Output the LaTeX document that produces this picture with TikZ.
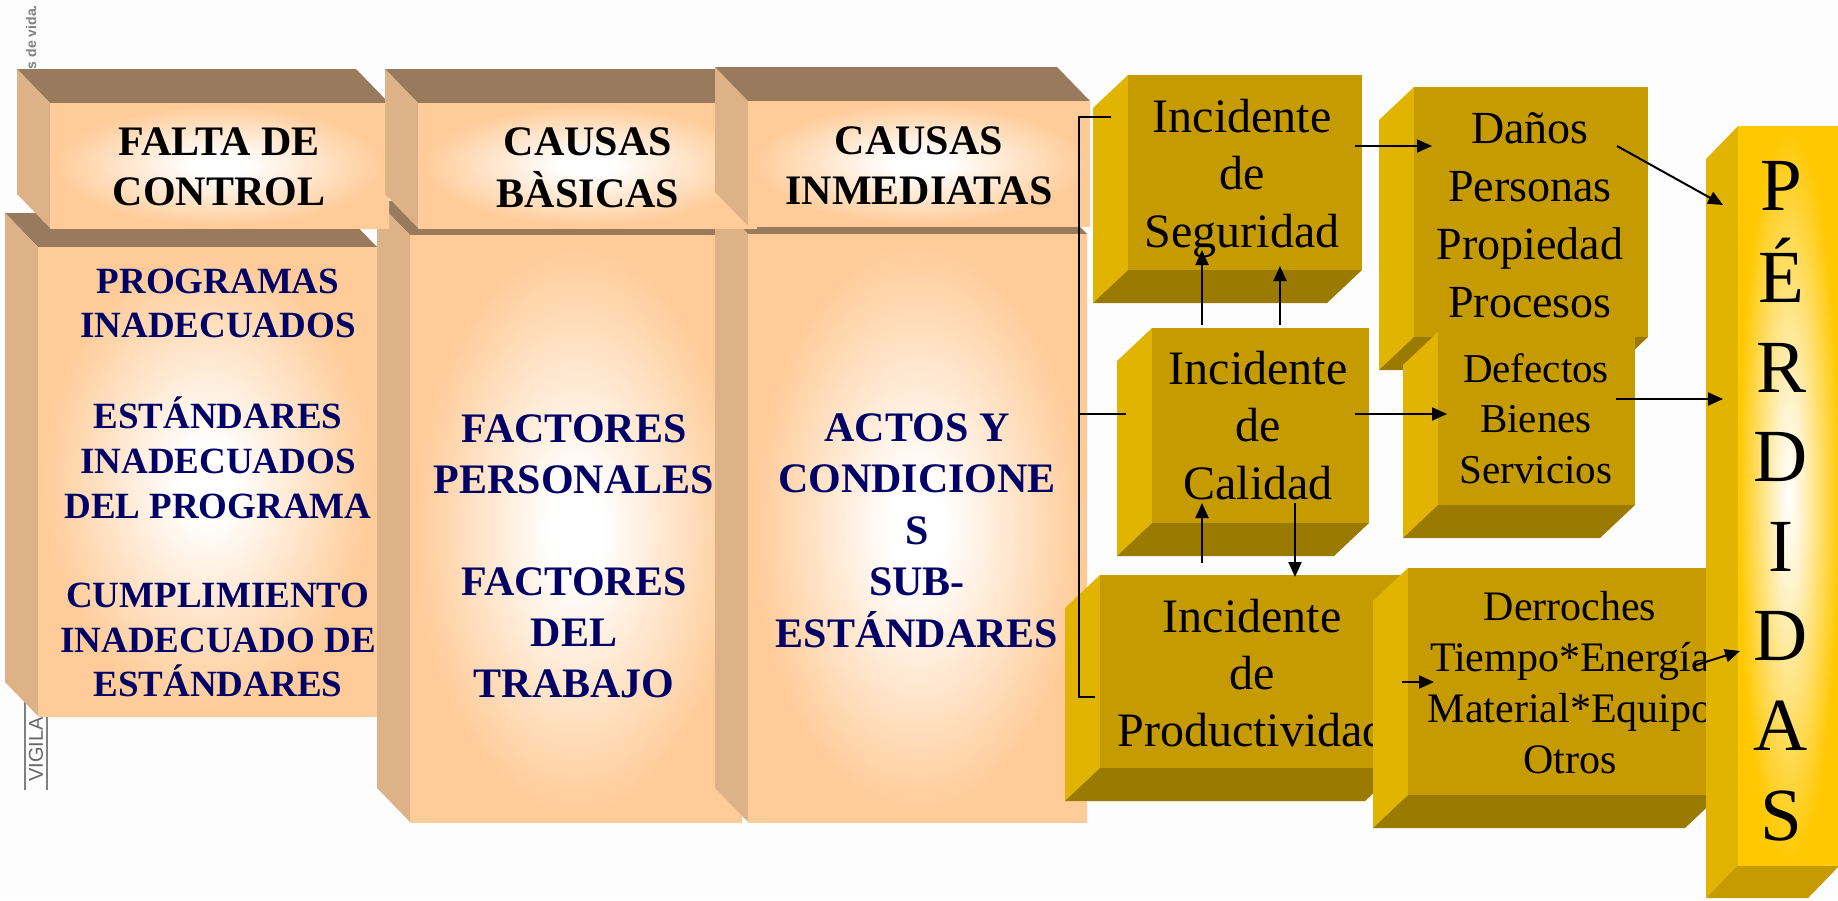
\documentclass[tikz,border=0pt]{standalone}
\usepackage{fontspec}
\setmainfont{Liberation Serif}
\newfontfamily\wmfont{Liberation Sans}
\usetikzlibrary{arrows.meta}
\definecolor{peach}{HTML}{FFCC99}
\definecolor{ptop}{HTML}{9A7A5C}
\definecolor{pside}{HTML}{DEB287}
\definecolor{navytx}{HTML}{000066}
\definecolor{gfront}{HTML}{C69B00}
\definecolor{gside}{HTML}{E0B400}
\definecolor{gbottom}{HTML}{9A7A00}
\definecolor{gyellow}{HTML}{FFC800}
\definecolor{gpale}{HTML}{FFF4D0}
\definecolor{bgc}{HTML}{FDFDFD}
\pgfdeclareradialshading{peachglow}{\pgfpoint{0bp}{0bp}}{color(0bp)=(white); color(4bp)=(white); color(24bp)=(peach); color(50bp)=(peach)}
\pgfdeclareradialshading{goldglow}{\pgfpoint{0bp}{0bp}}{color(0bp)=(white); color(6bp)=(gpale); color(25bp)=(gyellow); color(50bp)=(gyellow)}
\newcommand\peachcube[4]{%
  \fill[ptop] ({#1-33},{#2-34}) -- ({#3-33},{#2-34}) -- (#3,#2) -- (#1,#2) -- cycle;
  \fill[pside] ({#1-33},{#2-34}) -- (#1,#2) -- (#1,#4) -- ({#1-33},{#4-34}) -- cycle;
  \shade[shading=peachglow] (#1,#2) rectangle (#3,#4);}
\newcommand\goldcube[4]{%
  \fill[gside] ({#1-35},{#2+33}) -- (#1,#2) -- (#1,#4) -- ({#1-35},{#4+33}) -- cycle;
  \fill[gbottom] (#1,#4) -- (#3,#4) -- ({#3-35},{#4+33}) -- ({#1-35},{#4+33}) -- cycle;
  \fill[gfront] (#1,#2) rectangle (#3,#4);}
\begin{document}
\begin{tikzpicture}[x=1pt,y=-1pt,
  hdr/.style={font=\fontsize{42}{50}\selectfont\bfseries, text=black, align=center, anchor=north, inner sep=0pt},
  bodytx/.style 2 args={font=\fontsize{#1}{#2}\selectfont\bfseries, text=navytx, align=center, anchor=north, inner sep=0pt},
  gtx/.style 2 args={font=\fontsize{#1}{#2}\selectfont, text=black, align=center, anchor=north, inner sep=0pt},
  arr/.style={-{Triangle[length=15pt,width=13pt]}, line width=2pt, draw=black},
  brk/.style={line width=1.8pt, draw=black}]
\useasboundingbox (0,0) rectangle (1838,900);
\clip (0,0) rectangle (1838,900);
\fill[bgc] (0,0) rectangle (1838,900);

% background watermark fragments
\node[rotate=90, anchor=east, font=\wmfont\bfseries\fontsize{14}{16}\selectfont, text=gray, inner sep=0pt] (wma) at (31,5) {os de vida.};
\draw[gray, line width=1.5pt] (25,790) -- (25,697);
\draw[gray, line width=1.5pt] (47,790) -- (47,697);
\node[rotate=90, anchor=west, font=\wmfont\fontsize{20}{24}\selectfont, text=gray!80!black, inner sep=0pt] (wmb) at (36,782) {VIGILA};

% peach cubes
\peachcube{38}{247}{377}{716}
\peachcube{410}{235}{742}{822}
\peachcube{748}{234}{1087}{822}
\peachcube{50}{103}{389}{228}
\peachcube{418}{103}{757}{228}
\peachcube{748}{101}{1090}{226}

\node[hdr] (hfalta) at (219,120) {\strut FALTA DE\\CONTROL\strut};
\node[hdr] (hbasic) at (588,120) {\strut CAUSAS\\BÀSICAS\strut};
\node[hdr] (hinmed) at (919,119) {\strut CAUSAS\\INMEDIATAS\strut};

\node[bodytx={37}{44.7}] (bfalta) at (218,261.7) {\strut PROGRAMAS\\INADECUADOS\\\strut\\ESTÁNDARES\\INADECUADOS\\DEL PROGRAMA\\\strut\\CUMPLIMIENTO\\INADECUADO DE\\ESTÁNDARES\strut};
\node[bodytx={42}{51}] (bbasic) at (574,406.3) {\strut FACTORES\\PERSONALES\\\strut\\FACTORES\\DEL\\TRABAJO\strut};
\node[bodytx={42}{51.5}] (binmed) at (917,405) {\strut ACTOS Y\\CONDICIONE\\S\\SUB-\\ESTÁNDARES\strut};

% gold cubes
\goldcube{1128}{75}{1362}{270}
\node[gtx={48}{57.5}] (tseg) at (1242,91.75) {\strut Incidente\\de\\Seguridad\strut};
\goldcube{1414}{87}{1648}{337}
\node[gtx={46}{58}] (tdan) at (1530,102.4) {\strut Daños\\Personas\\Propiedad\\Procesos\strut};
\goldcube{1152}{328}{1369}{523}
\node[gtx={48}{57.5}] (tcal) at (1258,343.75) {\strut Incidente\\de\\Calidad\strut};
\goldcube{1438}{332}{1635}{505}
\node[gtx={41}{50.5}] (tdef) at (1536,346.65) {\strut Defectos\\Bienes\\Servicios\strut};
\goldcube{1100}{575}{1400}{768}
\node[gtx={48}{57}] (tprod) at (1252,592.1) {\strut Incidente\\de\\Productividad\strut};
\goldcube{1408}{568}{1720}{795}
\node[gtx={42}{51}] (tder) at (1570,584.3) {\strut Derroches\\Tiempo*Energía\\Material*Equipo\\Otros\strut};

% PERDIDAS bar
\fill[gside] (1706,159) -- (1738,126) -- (1738,865) -- (1706,898) -- cycle;
\fill[gfront] (1738,865) -- (1840,865) -- (1808,898) -- (1706,898) -- cycle;
\shade[shading=goldglow] (1738,126) rectangle (1840,865);
\node[gtx={75}{89.6}] (tper) at (1781,147.3) {\strut P\\É\\R\\D\\I\\D\\A\\S\strut};

% bracket
\coordinate (bTop) at (1079,117);
\coordinate (bTopE) at (1111,117);
\coordinate (bMid) at (1079,414);
\coordinate (bMidE) at (1126,414);
\coordinate (bBot) at (1079,697);
\coordinate (bBotE) at (1095,697);
\draw[brk] (bTopE) -- (bTop) -- (bBot) -- (bBotE);
\draw[brk] (bMid) -- (bMidE);

% arrows
\coordinate (segOut) at (1355,146);
\coordinate (danIn) at (1432,146);
\coordinate (danOut) at (1617,146);
\coordinate (perA) at (1723,205);
\coordinate (calOut) at (1355,414);
\coordinate (defIn) at (1447,414);
\coordinate (defOut) at (1616,399);
\coordinate (perB) at (1723,399);
\coordinate (calUpA) at (1202,325);
\coordinate (segInA) at (1202,250);
\coordinate (calUpB) at (1280,325);
\coordinate (segInB) at (1280,266);
\coordinate (prodUp) at (1202,563);
\coordinate (calIn) at (1202,503);
\coordinate (calDown) at (1295,503);
\coordinate (prodIn) at (1295,577);
\coordinate (prodOut) at (1402,682);
\coordinate (derIn) at (1434,682);
\coordinate (derOut) at (1693,666);
\coordinate (perC) at (1740,651);
\draw[arr] (segOut) -- (danIn);
\draw[arr] (danOut) -- (perA);
\draw[arr] (calOut) -- (defIn);
\draw[arr] (defOut) -- (perB);
\draw[arr] (calUpA) -- (segInA);
\draw[arr] (calUpB) -- (segInB);
\draw[arr] (prodUp) -- (calIn);
\draw[arr] (calDown) -- (prodIn);
\draw[arr] (prodOut) -- (derIn);
\draw[arr] (derOut) -- (perC);
\end{tikzpicture}
\end{document}
